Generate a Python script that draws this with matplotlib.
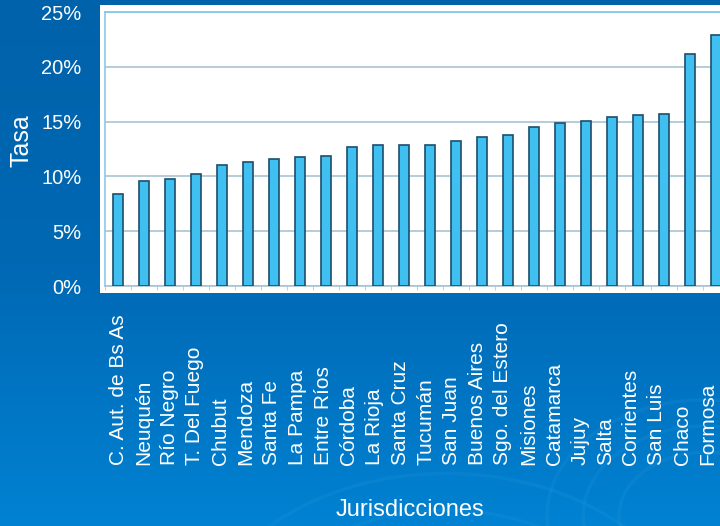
import numpy as np
import matplotlib
matplotlib.use("Agg")
import matplotlib.pyplot as plt
from matplotlib.patches import Rectangle, Circle
from matplotlib.colors import LinearSegmentedColormap
from matplotlib.transforms import blended_transform_factory

jurisdicciones = [
    "C. Aut. de Bs As", "Neuquén", "Río Negro", "T. Del Fuego", "Chubut",
    "Mendoza", "Santa Fe", "La Pampa", "Entre Ríos", "Córdoba", "La Rioja",
    "Santa Cruz", "Tucumán", "San Juan", "Buenos Aires", "Sgo. del Estero",
    "Misiones", "Catamarca", "Jujuy", "Salta", "Corrientes", "San Luis",
    "Chaco", "Formosa",
]
tasa = [
    8.4, 9.6, 9.8, 10.2, 11.0, 11.3, 11.6, 11.8, 11.9, 12.7, 12.9, 12.9,
    12.9, 13.2, 13.6, 13.8, 14.5, 14.9, 15.1, 15.4, 15.6, 15.7, 21.2, 22.9,
]
y_ticks = [0, 5, 10, 15, 20, 25]

plt.rcParams["font.family"] = ["Liberation Sans", "DejaVu Sans"]

fig = plt.figure(figsize=(7.2, 5.26), dpi=100)

# background gradient with faint swirls
bg = fig.add_axes([0, 0, 1, 1], zorder=-10)
grad = np.linspace(0, 1, 256).reshape(-1, 1)
cmap = LinearSegmentedColormap.from_list("bg", ["#0062AA", "#0068B4", "#0082D2"])
bg.imshow(grad, aspect="auto", cmap=cmap, extent=[0, 1, 0, 1], origin="upper")
for r, cx, cy in [(0.22, 0.98, 0.02), (0.17, 0.98, 0.02), (0.12, 0.98, 0.02),
                  (0.35, 0.62, -0.25), (0.28, 0.62, -0.25)]:
    bg.add_patch(Circle((cx, cy), r, transform=bg.transAxes, fill=False,
                        ec="#2A9BE0", lw=2.5, alpha=0.18))
bg.set_xlim(0, 1)
bg.set_ylim(0, 1)
bg.axis("off")

# white plot panel
fig.patches.append(Rectangle((100 / 720, 233 / 526), 620 / 720, 288 / 526,
                             transform=fig.transFigure, fc="white", ec="none", zorder=-5))

ax = fig.add_axes([105 / 720, 240 / 526, 624 / 720, 274 / 526])
ax.set_facecolor("white")
x = np.arange(len(tasa))
ax.bar(x, tasa, width=0.42, color="#3FC0F0", edgecolor="#1D4E6B", linewidth=1.2, zorder=3)

ax.set_xlim(-0.5, len(tasa) - 0.5)
ax.set_ylim(0, 25)
ax.set_yticks(y_ticks)
ax.set_yticklabels([f"{t}%" for t in y_ticks])
ax.grid(axis="y", color="#A9C3D1", lw=1.2, zorder=0)
ax.tick_params(axis="y", length=0, pad=17, labelsize=14.5, labelcolor="white")

# category labels sit on a common baseline below the axis,
# slightly tighter spacing than the bars (as in the original slide)
ax.set_xticks(x)
ax.set_xticklabels([])
ax.tick_params(axis="x", length=0)
trans = blended_transform_factory(ax.transData, ax.transAxes)
for xi, name in zip(x, jurisdicciones):
    ax.text(xi * 0.9865, -179 / 274, name, rotation=90, ha="center", va="bottom",
            fontsize=15, color="white", transform=trans, clip_on=False)
ax.set_xticks(np.arange(-0.5, len(tasa), 1), minor=True)
ax.tick_params(axis="x", which="minor", length=3, color="#B0C8D6")

ax.spines["right"].set_visible(False)
ax.spines["top"].set_color("#7EC6EA")
ax.spines["left"].set_color("#8CC8E6")
ax.spines["bottom"].set_color("#A9C3D1")
for s in ["top", "left", "bottom"]:
    ax.spines[s].set_linewidth(1.2)

ax.set_ylabel("Tasa", fontsize=18, color="white")
ax.yaxis.set_label_coords(-0.115, 0.53)
fig.text(410 / 720, 1 - 510 / 526, "Jurisdicciones", fontsize=17, color="white",
         ha="center", va="center")

fig.savefig("out.png", dpi=100)
